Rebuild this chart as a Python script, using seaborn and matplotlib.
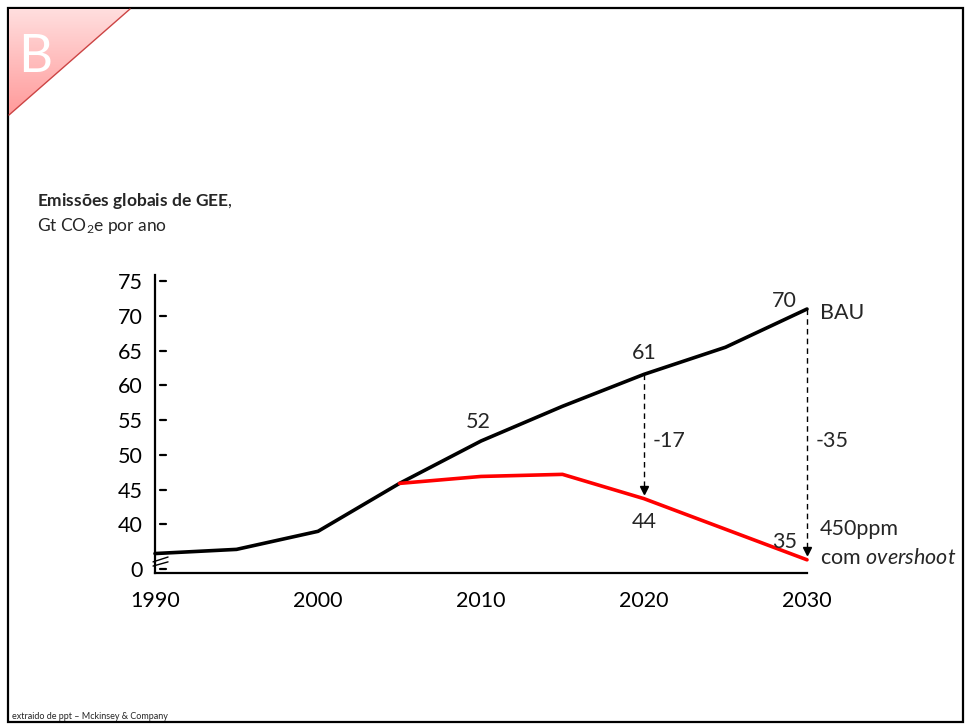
import numpy as np
import pandas as pd
import matplotlib
matplotlib.use('Agg')
import matplotlib.pyplot as plt
import matplotlib.transforms as mtransforms
from matplotlib.patches import Polygon, Rectangle
import seaborn as sns

# values (Gt CO2e per year)
years = [1990, 1995, 2000, 2005, 2010, 2015, 2020, 2025, 2030]
bau = [35.8, 36.4, 39.0, 45.9, 52.0, 57.0, 61.6, 65.5, 71.0]
years_450 = [2005, 2010, 2015, 2020, 2025, 2030]
ppm450 = [45.9, 46.9, 47.2, 43.7, 39.3, 34.9]

ytick_vals = [75, 70, 65, 60, 55, 50, 45, 40]
xtick_labels = [1990, 2000, 2010, 2020, 2030]

sns.set_style('white')
plt.rcParams['font.family'] = ['Lato', 'DejaVu Sans']
plt.rcParams['mathtext.fontset'] = 'custom'
plt.rcParams['mathtext.rm'] = 'Lato'
plt.rcParams['mathtext.it'] = 'Lato:italic'
plt.rcParams['mathtext.bf'] = 'Lato:bold'

W, H = 966, 726
fig = plt.figure(figsize=(W / 100, H / 100), dpi=100)
fig.patch.set_facecolor('white')

# slide background layer (pixel coords)
bg = fig.add_axes([0, 0, 1, 1])
bg.set_xlim(0, W)
bg.set_ylim(H, 0)
bg.axis('off')
bg.add_patch(Rectangle((8, 8), 955, 714, fill=False, ec='black', lw=1.6))

tri = Polygon([(9, 9), (130, 9), (9, 115)], closed=True, fc='none', ec='none')
bg.add_patch(tri)
grad = np.linspace(0, 1, 100).reshape(-1, 1)
cmap = matplotlib.colors.LinearSegmentedColormap.from_list('pink', ['#ffdede', '#ff9a9a'])
im = bg.imshow(grad, cmap=cmap, extent=(9, 130, 115, 9), aspect='auto', zorder=1)
im.set_clip_path(tri)
bg.plot([130, 9], [9, 115], color='#cc4444', lw=1.0, zorder=2)
bg.text(18, 72, 'B', color='white', fontsize=38, zorder=3)

bg.text(37, 206, r'$\bf{Emissões\ globais\ de\ GEE}$,', fontsize=12.5)
bg.text(37, 231, r'Gt CO$_2$e por ano', fontsize=12.5)
bg.text(12, 719, 'extraido de ppt – Mckinsey & Company', fontsize=6.5)

# main chart
ax = fig.add_axes([155 / W, 1 - 573 / H, (807 - 155) / W, (573 - 275) / H])
ax.patch.set_alpha(0)
df_bau = pd.DataFrame({'ano': years, 'emissoes': bau})
df_450 = pd.DataFrame({'ano': years_450, 'emissoes': ppm450})
sns.lineplot(data=df_bau, x='ano', y='emissoes', color='black', lw=2.6, ax=ax, clip_on=False)
sns.lineplot(data=df_450, x='ano', y='emissoes', color='#ff0000', lw=2.6, ax=ax, clip_on=False)

ax.set_xlim(1990, 2030)
ax.set_ylim(33.0, 75.9)
ax.set_xlabel('')
ax.set_ylabel('')
for s in ['top', 'right']:
    ax.spines[s].set_visible(False)
for s in ['left', 'bottom']:
    ax.spines[s].set_linewidth(1.6)
    ax.spines[s].set_color('black')

fs = 15.5
ax.set_xticks(range(1990, 2031, 5))
ax.set_xticklabels([str(y) if y in xtick_labels else '' for y in range(1990, 2031, 5)])
ax.tick_params(axis='x', direction='in', length=7, width=1, pad=13, labelsize=fs, colors='black')

ax.set_yticks(ytick_vals + [33.6])
ax.set_yticklabels([str(v) for v in ytick_vals] + ['0'])
ax.tick_params(axis='y', length=0, pad=9, labelsize=fs, colors='black')
# little detached tick dashes
trans = mtransforms.blended_transform_factory(ax.transAxes, ax.transData)
for v in ytick_vals + [33.6]:
    ax.plot([0.008, 0.017], [v, v], color='black', lw=1.6, transform=trans, clip_on=False)
# axis break marks
for y0, y1 in [(34.6, 35.3), (34.0, 34.6)]:
    ax.plot([-0.003, 0.02], [y0, y1], color='black', lw=1.0,
            transform=trans, clip_on=False)

# reduction arrows
for x0, y_top, y_tip in [(2020, 61.6, 44.4), (2030, 71.0, 35.7)]:
    ax.plot([x0, x0], [y_top, y_tip + 0.6], color='black', lw=1.0, ls=(0, (4, 3)), clip_on=False)
    ax.plot([x0], [y_tip + 0.5], marker='v', color='black', ms=6, clip_on=False)

ax.text(2009.8, 54.8, '52', fontsize=fs, ha='center', va='center')
ax.text(2020, 64.6, '61', fontsize=fs, ha='center', va='center')
ax.text(2028.6, 72.2, '70', fontsize=fs, ha='center', va='center')
ax.text(2020, 40.4, '44', fontsize=fs, ha='center', va='center')
ax.text(2028.6, 37.4, '35', fontsize=fs, ha='center', va='center')
ax.text(2020.5, 52.0, '-17', fontsize=fs, ha='left', va='center')
ax.text(2030.5, 52.0, '-35', fontsize=fs, ha='left', va='center')
ax.text(2030.8, 70.4, 'BAU', fontsize=fs, ha='left', va='center')
ax.text(2030.8, 39.3, '450ppm', fontsize=fs, ha='left', va='center')
ax.text(2030.8, 35.2, r'com $overshoot$', fontsize=fs, ha='left', va='center')

fig.savefig('out.png', dpi=100, facecolor='white')
